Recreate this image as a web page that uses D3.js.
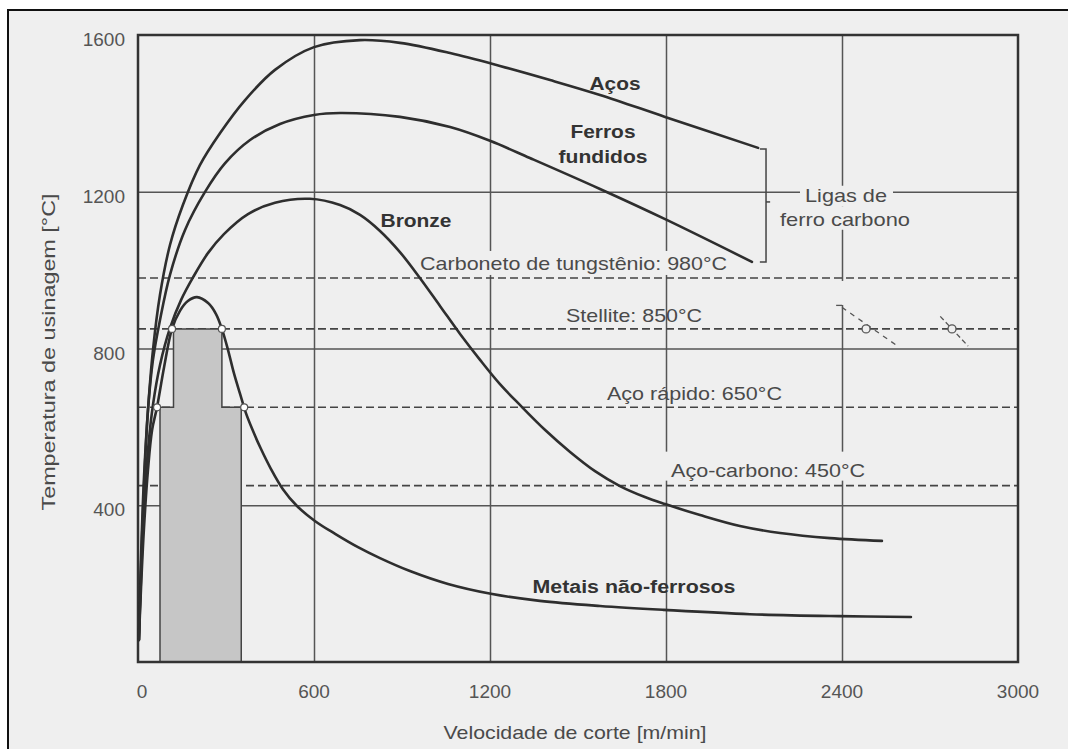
<!DOCTYPE html>
<html>
<head>
<meta charset="utf-8">
<script src="https://cdn.jsdelivr.net/npm/d3@7"></script>
<style>
  html, body { margin: 0; padding: 0; background: #ffffff; }
  svg { display: block; }
  text { font-family: "Liberation Sans", Arial, Helvetica, sans-serif; }
</style>
</head>
<body>
<svg id="chart" width="1068" height="749"></svg>
<script>
// ---- data: machining temperature [°C] versus cutting speed [m/min] ----
const speedTicks = [0, 600, 1200, 1800, 2400, 3000];
const tempTicks = [400, 800, 1200, 1600];

// curves as [cutting speed, temperature]
const acos = [[3, 56], [10, 260], [20, 464], [34, 643], [51, 796], [75, 937], [109, 1064],
  [153, 1166], [211, 1268], [280, 1350], [365, 1434], [467, 1511], [600, 1569], [757, 1587],
  [893, 1580], [1064, 1554], [1234, 1521], [1405, 1485], [1575, 1447], [1797, 1391], [2114, 1312]];
const ferrosFundidos = [[3, 56], [10, 235], [20, 439], [34, 643], [51, 771], [75, 873],
  [109, 988], [160, 1102], [228, 1199], [297, 1273], [382, 1332], [484, 1373], [600, 1396],
  [689, 1401], [893, 1391], [1064, 1365], [1200, 1330], [1336, 1286], [1575, 1207],
  [1797, 1130], [2093, 1021]];
const bronze = [[3, 56], [10, 209], [20, 388], [34, 541], [51, 656], [75, 758], [109, 852],
  [147, 924], [188, 982], [239, 1044], [293, 1092], [375, 1143], [467, 1172], [586, 1182],
  [689, 1166], [757, 1141], [825, 1100], [893, 1046], [961, 980], [1030, 908], [1098, 837],
  [1166, 771], [1234, 709], [1302, 656], [1388, 592], [1473, 536], [1558, 487], [1643, 449],
  [1728, 421], [1797, 403], [1916, 375], [2052, 347], [2189, 329], [2359, 316], [2536, 309]];
const metaisNaoFerrosos = [[3, 56], [10, 184], [20, 337], [34, 490], [48, 592], [65, 651],
  [89, 753], [116, 850], [143, 896], [170, 921], [201, 931], [239, 916], [266, 888], [286, 850],
  [307, 796], [327, 737], [348, 684], [368, 635], [389, 595], [419, 544], [453, 493],
  [494, 441], [542, 398], [603, 360], [672, 327], [750, 293], [825, 265], [927, 232],
  [1057, 199], [1203, 174], [1370, 156], [1575, 143], [1793, 133], [2086, 122], [2390, 117],
  [2635, 115]];

// temperature limits of tool materials
const toolNames = ["Carboneto de tungstênio", "Stellite", "Aço rápido", "Aço-carbono"];
const toolTemps = [980, 850, 650, 450];

// stepped speed window for non-ferrous metals
const windowSpeeds = [75, 75, 121, 121, 286, 286, 352, 352];
const windowTemps = [0, 650, 650, 850, 850, 650, 650, 0];

// points where the non-ferrous curve meets the tool limits
const crossSpeeds = [65, 116, 286, 362];
const crossTemps = [650, 850, 850, 650];

// ---- layout ----
const svg = d3.select("#chart");
const W = 1068, H = 749;
const x = d3.scaleLinear().domain([0, 3000]).range([138, 1018]);
const y = d3.scaleLinear().domain([0, 1600]).range([662, 35]);
const BG = "#efefef";
const FONT_COL = "#4a4a4a";

// page and outer frame
svg.append("rect").attr("width", W).attr("height", H).attr("fill", "#ffffff");
svg.append("rect").attr("x", 8).attr("y", 10).attr("width", W + 20).attr("height", H + 20)
  .attr("fill", BG).attr("stroke", "#111").attr("stroke-width", 2);

// text helper; width fixes the drawn length of the string
function label(g, str, px, py, opts) {
  const t = g.append("text").attr("x", px).attr("y", py).text(str)
    .attr("font-size", opts.size || 19)
    .attr("font-weight", opts.bold ? "bold" : "normal")
    .attr("fill", opts.color || FONT_COL)
    .attr("text-anchor", opts.anchor || "middle");
  if (opts.width) t.attr("textLength", opts.width).attr("lengthAdjust", "spacingAndGlyphs");
  return t;
}

// grid
const grid = svg.append("g");
grid.append("g").attr("transform", `translate(0,${y(0)})`)
  .call(d3.axisBottom(x).tickValues(speedTicks.slice(1, -1)).tickSize(-(y(0) - y(1600))).tickFormat(""))
  .call(g => g.select(".domain").remove())
  .selectAll("line").attr("stroke", "#555").attr("stroke-width", 1.5);
grid.append("g").attr("transform", `translate(${x(0)},0)`)
  .call(d3.axisLeft(y).tickValues(tempTicks.slice(0, -1)).tickSize(-(x(3000) - x(0))).tickFormat(""))
  .call(g => g.select(".domain").remove())
  .selectAll("line").attr("stroke", "#555").attr("stroke-width", 1.5);

// tool limit lines
const limits = svg.append("g");
toolTemps.forEach(t => {
  limits.append("line").attr("x1", x(0)).attr("x2", x(3000)).attr("y1", y(t)).attr("y2", y(t))
    .attr("stroke", "#444").attr("stroke-width", 1.6).attr("stroke-dasharray", "8,4");
});

// backgrounds that keep labels clear of the grid
const pads = svg.append("g").attr("fill", BG);
pads.append("rect").attr("x", 416).attr("y", y(980) - 27).attr("width", 315).attr("height", 24);
pads.append("rect").attr("x", 662).attr("y", y(450) - 34).attr("width", 208).attr("height", 29);
pads.append("rect").attr("x", 800).attr("y", y(1200) - 6).attr("width", 93).attr("height", 21);
pads.append("rect").attr("x", 777).attr("y", y(1200) + 15).attr("width", 136).attr("height", 23);
pads.append("rect").attr("x", x(2400) - 3).attr("y", y(980) + 3).attr("width", 6).attr("height", 24);

// shaded speed window
const windowPts = windowSpeeds.map((s, i) => [x(s), y(windowTemps[i])]);
svg.append("path").attr("d", d3.line()(windowPts) + "Z")
  .attr("fill", "#c6c6c6").attr("stroke", "#444").attr("stroke-width", 1.5);
svg.append("line").attr("x1", x(crossSpeeds[0])).attr("x2", x(windowSpeeds[0]))
  .attr("y1", y(650)).attr("y2", y(650)).attr("stroke", "#444").attr("stroke-width", 1.5);

// plot frame
svg.append("rect").attr("x", x(0)).attr("y", y(1600)).attr("width", x(3000) - x(0))
  .attr("height", y(0) - y(1600)).attr("fill", "none").attr("stroke", "#333").attr("stroke-width", 2.5);

// curves
const line = d3.line().x(d => x(d[0])).y(d => y(d[1])).curve(d3.curveCatmullRom.alpha(0.5));
[acos, ferrosFundidos, bronze, metaisNaoFerrosos].forEach(c => {
  svg.append("path").attr("d", line(c)).attr("fill", "none")
    .attr("stroke", "#2e2e2e").attr("stroke-width", 2.6).attr("stroke-linecap", "round");
});

// crossing markers
svg.append("g").selectAll("circle").data(crossSpeeds).join("circle")
  .attr("cx", d => x(d)).attr("cy", (d, i) => y(crossTemps[i])).attr("r", 3.5)
  .attr("fill", "#ffffff").attr("stroke", "#555").attr("stroke-width", 1.2);

// break marks on the Stellite line
const brk = svg.append("g").attr("stroke", "#555").attr("stroke-width", 1.3).attr("fill", "none");
brk.append("line").attr("x1", x(2380)).attr("y1", y(910)).attr("x2", x(2400)).attr("y2", y(910));
brk.append("line").attr("x1", x(2400)).attr("y1", y(905)).attr("x2", x(2590)).attr("y2", y(806))
  .attr("stroke-dasharray", "5,5");
brk.append("line").attr("x1", x(2735)).attr("y1", y(882)).attr("x2", x(2830)).attr("y2", y(806))
  .attr("stroke-dasharray", "5,3");
brk.selectAll("circle").data([2482, 2775]).join("circle")
  .attr("cx", d => x(d)).attr("cy", y(850)).attr("r", 4).attr("fill", BG);

// bracket grouping the iron-carbon alloys
const br = svg.append("g").attr("stroke", "#444").attr("stroke-width", 1.5).attr("fill", "none");
br.append("path").attr("d", `M${x(2120)},${y(1309)} H${x(2141)} V${y(1021)} H${x(2120)}`);
br.append("line").attr("x1", x(2141)).attr("x2", x(2155)).attr("y1", y(1174)).attr("y2", y(1174));

// tick labels
const ticks = svg.append("g");
tempTicks.forEach(t => label(ticks, String(t), 125, y(t) + 11, { anchor: "end", size: 19, color: "#555" }));
speedTicks.forEach(s => label(ticks, String(s), x(s) + (s === 0 ? 4 : 0), 698, { size: 19, color: "#555" }));

// axis titles
label(svg, "Velocidade de corte [m/min]", 575, 739, { size: 19, width: 263 });
svg.append("text").attr("transform", "translate(55,352) rotate(-90)")
  .attr("text-anchor", "middle").attr("font-size", 18).attr("fill", FONT_COL)
  .attr("textLength", 317).attr("lengthAdjust", "spacingAndGlyphs")
  .text("Temperatura de usinagem [°C]");

// curve names
const names = svg.append("g");
label(names, "Aços", 615, 90, { bold: true, size: 18, width: 51, color: "#333" });
label(names, "Ferros", 603, 138, { bold: true, size: 18, width: 65, color: "#333" });
label(names, "fundidos", 603, 163, { bold: true, size: 18, width: 89, color: "#333" });
label(names, "Bronze", 416, 227, { bold: true, size: 18, width: 71, color: "#333" });
label(names, "Metais não-ferrosos", 634, 593, { bold: true, size: 18, width: 203, color: "#333" });
label(names, "Ligas de", 846, 202, { size: 19, width: 82 });
label(names, "ferro carbono", 845, 226, { size: 19, width: 130 });

// tool limit labels
const toolLabels = svg.append("g");
const toolLabelPos = [[1485, 8, 307], [1691, 7, 136], [1897, 7, 175], [2148, 9, 194]];
toolNames.forEach((n, i) => {
  const p = toolLabelPos[i];
  label(toolLabels, `${n}: ${toolTemps[i]}°C`, x(p[0]), y(toolTemps[i]) - p[1], { size: 19, width: p[2] });
});
</script>
</body>
</html>
